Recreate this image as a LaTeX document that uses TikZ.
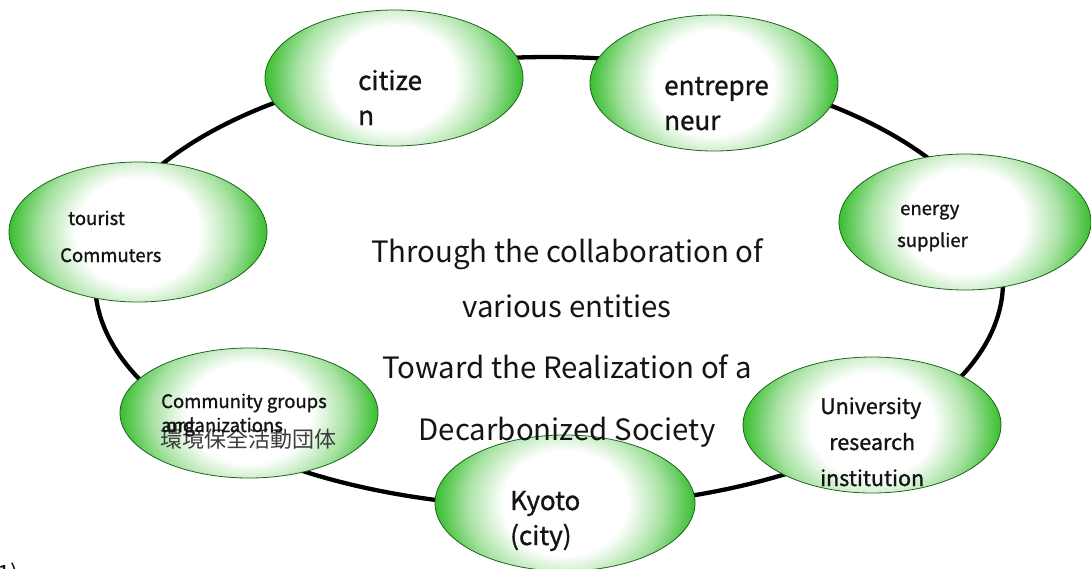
\documentclass[tikz,border=0pt]{standalone}
\usepackage{fontspec}
\setmainfont{Noto Sans CJK JP}
\newfontfamily\labelfont[FakeBold=1.1]{Noto Sans CJK JP}
\usetikzlibrary{shapes.geometric}

\definecolor{bubgreen}{RGB}{58,190,48}
\definecolor{bubline}{RGB}{30,100,30}
\definecolor{inktext}{RGB}{20,20,20}
\definecolor{jptext}{RGB}{60,60,60}

% white core fading out to green towards the rim (rim sits at 25bp)
\pgfdeclareradialshading{bubble}{\pgfpoint{0bp}{0bp}}{%
  color(0bp)=(white); color(12bp)=(white); color(19bp)=(bubgreen!45!white);
  color(23bp)=(bubgreen!82!white); color(25bp)=(bubgreen); color(50bp)=(bubgreen)}

\tikzset{
  ring/.style={line width=4.3pt, black},
  bubble/.style 2 args={ellipse, inner sep=0pt,
    minimum width=2*#1pt, minimum height=2*#2pt,
    draw=bubline, line width=0.8pt,
    path picture={\shade[shading=bubble] (path picture bounding box.center)
      ellipse [x radius=#1pt, y radius=1.6*#2pt];}},
  lbl/.style={anchor=base west, inner sep=0pt, text=inktext},
  big/.style={lbl, font=\labelfont\fontsize{26}{30}\selectfont},
  small/.style={lbl, font=\labelfont\fontsize{18.5}{22}\selectfont},
  mid/.style={lbl, font=\labelfont\fontsize{21.5}{24}\selectfont},
  headline/.style={anchor=base, inner sep=0pt, text=inktext,
    font=\fontsize{29.4}{34}\selectfont},
}

\begin{document}
\begin{tikzpicture}[x=1pt, y=-1pt]
\useasboundingbox (0,0) rectangle (1091,568);
\clip (0,0) rectangle (1091,568);

% the ring linking all participants
\coordinate (hub) at (549,282);
\draw[ring] (hub) ellipse [x radius=454pt, y radius=225pt];

% participants
\node[bubble={129}{68}] (citizen) at (394,78) {};
\node[bubble={124}{68}] (entre)   at (714,83) {};
\node[bubble={126}{68}] (energy)  at (965,222) {};
\node[bubble={129}{68}] (univ)    at (872,425) {};
\node[bubble={130}{68}] (kyoto)   at (565,503) {};
\node[bubble={129}{65}] (groups)  at (249,413) {};
\node[bubble={129}{70}] (tourist) at (138,232) {};

% participant labels
\node[big] (tcit1) at (358,90)  {citize};
\node[big] (tcit2) at (358,125) {n};
\node[big] (tent1) at (664,95)  {entrepre};
\node[big] (tent2) at (664,130) {neur};
\node[small] (tene1) at (900,215) {energy};
\node[small] (tene2) at (897,247) {supplier};
\node[mid] (tuni1) at (820,414) {University};
\node[mid] (tuni2) at (829,450) {research};
\node[mid] (tuni3) at (820,486) {institution};
\node[big] (tkyo1) at (510,510) {Kyoto};
\node[big] (tkyo2) at (510,545) {(city)};
\node[small] (ttou1) at (68,225)  {tourist};
\node[small] (ttou2) at (60,262)  {Commuters};
\node[small] (tgrp1) at (161,408) {Community groups};
\node[lbl, text=jptext, font=\fontsize{22}{24}\selectfont] (tgrp3) at (160,447) {環境保全活動団体};
\node[small] (tgrp2) at (161,432) {and};
\node[small] (tgrp4) at (166,432) {organizations};

% central message
\node[headline] (m1) at (567,262) {Through the collaboration of};
\node[headline] (m2) at (567,317) {various entities};
\node[headline] (m3) at (567,378) {Toward the Realization of a};
\node[headline] (m4) at (567,440) {Decarbonized Society};

% footnote marker at the lower edge
\node[lbl, font=\fontsize{24}{26}\selectfont] (note) at (-3,582) {1)};
\end{tikzpicture}
\end{document}
